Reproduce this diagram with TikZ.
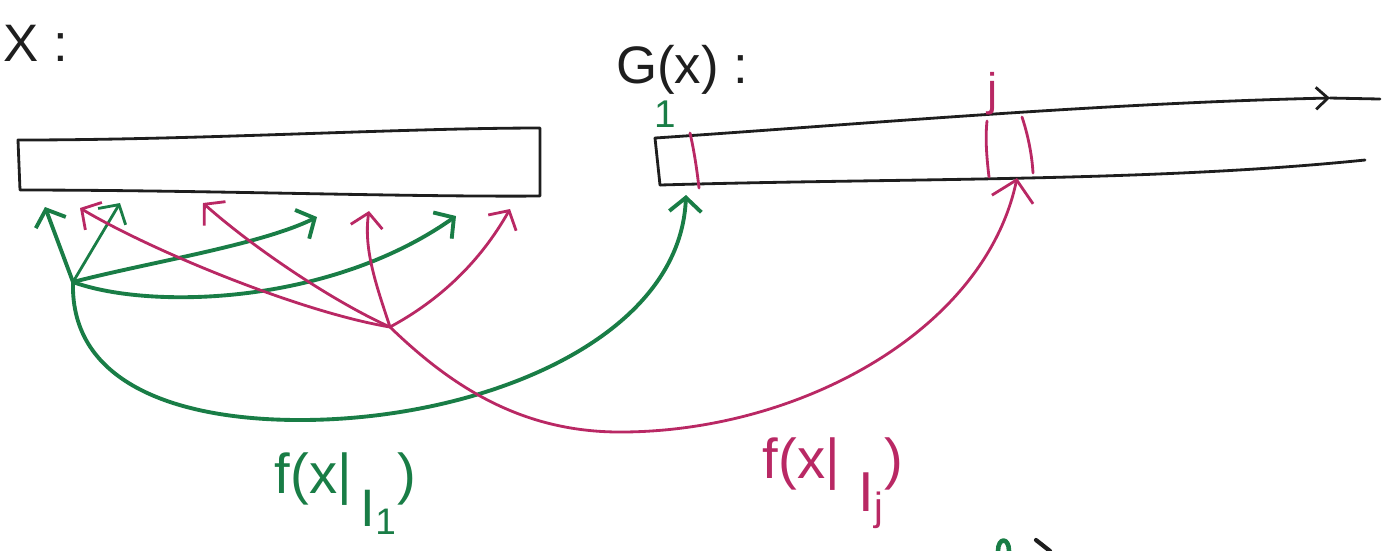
\documentclass[tikz,border=0pt]{standalone}
\usepackage{fontspec}
\setmainfont{Liberation Sans}
\usetikzlibrary{arrows.meta}
\definecolor{pen}{RGB}{30,30,30}
\definecolor{grn}{RGB}{25,125,70}
\definecolor{mag}{RGB}{185,40,100}
\begin{document}
\begin{tikzpicture}[x=0.01cm,y=-0.01cm, line cap=round, line join=round,
 ink/.style={draw=pen, line width=0.8pt},
 gline/.style={draw=grn, line width=1.1pt},
 mline/.style={draw=mag, line width=0.8pt},
 garrow/.style={gline, -{Straight Barb[length=1.4mm,width=3.2mm]}},
 marrow/.style={mline, -{Straight Barb[length=1.4mm,width=3.2mm]}},
 bigm/.style={mline, -{Straight Barb[length=2mm,width=4.2mm]}},
 lbl/.style={font=\fontsize{16}{19}\selectfont, inner sep=0pt},
 head/.style={font=\fontsize{15}{18}\selectfont, inner sep=0pt, text=pen}]

\path[use as bounding box] (0,0) rectangle (1397,550);

% titles
\node[head] (tx) at (36,43) {X :};
\node[head] (tg) at (682,70) {G(x) :};

% left array X
\coordinate (xtl) at (18,140);
\coordinate (xtr) at (540,128);
\coordinate (xbr) at (540,196);
\coordinate (xbl) at (20,190);
\draw[ink] (xtl) .. controls (200,140) and (400,128) .. (xtr) -- (xbr)
  .. controls (400,197) and (200,190) .. (xbl) -- cycle;

% right array G(x)
\coordinate (gtl) at (655,138);
\coordinate (gbl) at (660,185);
\coordinate (gta) at (1330,98);
\coordinate (gte) at (1380,99);
\coordinate (gbe) at (1365,160);
\draw[ink] (gtl) -- (gbl);
\draw[ink, -{Straight Barb[length=1.2mm,width=2.2mm]}] (gtl) .. controls (850,125) and (1100,103) .. (gta);
\draw[ink] (gta) -- (gte);
\draw[ink] (gbl) .. controls (900,178) and (1150,182) .. (gbe);

% cell boundaries
\coordinate (c1t) at (690,133); \coordinate (c1b) at (699,188);
\coordinate (cj1t) at (987,121); \coordinate (cj1b) at (989,177);
\coordinate (cj2t) at (1022,117); \coordinate (cj2b) at (1033,173);
\draw[mline] (c1t) .. controls (694,150) and (697,170) .. (c1b);
\draw[mline] (cj1t) .. controls (985,140) and (987,160) .. (cj1b);
\draw[mline] (cj2t) .. controls (1028,135) and (1032,155) .. (cj2b);
\node[font=\fontsize{11}{13}\selectfont, text=grn, inner sep=0pt] (one) at (665,114) {1};
\node[font=\fontsize{13}{15}\selectfont, text=mag, inner sep=0pt] (jj) at (993,94) {j};

% sources
\coordinate (s1) at (73,282);
\coordinate (s2) at (390,327);

% green targets
\coordinate (g1) at (45,207);
\coordinate (g2) at (120,203);
\coordinate (g3) at (317,217);
\coordinate (g4) at (456,216);
\coordinate (gg) at (686,195);
\draw[garrow] (s1) -- (g1);
\draw[garrow, line width=0.8pt] (s1) -- (g2);
\draw[garrow] (s1) .. controls (150,262) and (260,245) .. (g3);
\draw[garrow] (s1) .. controls (150,310) and (330,305) .. (g4);
\draw[garrow] (s1) .. controls (70,385) and (180,420) .. (300,420)
  .. controls (480,420) and (680,340) .. (gg);

% magenta targets
\coordinate (m1) at (80,208);
\coordinate (m2) at (203,203);
\coordinate (m3) at (369,211);
\coordinate (m4) at (510,209);
\coordinate (mg) at (1017,178);
\draw[marrow] (s2) .. controls (300,312) and (150,250) .. (m1);
\draw[marrow] (s2) .. controls (330,300) and (250,245) .. (m2);
\draw[marrow] (s2) .. controls (378,290) and (363,250) .. (m3);
\draw[marrow] (s2) .. controls (440,300) and (480,262) .. (m4);
\draw[bigm] (s2) .. controls (450,385) and (520,432) .. (620,432)
  .. controls (800,432) and (985,330) .. (mg);

% labels
\node[lbl, text=grn, anchor=base west] (lf1) at (274,493)
  {f(x|\raisebox{-0.6em}{\fontsize{15}{17}\selectfont\,I\textsubscript{1}})};
\node[lbl, text=mag, anchor=base west] (lfj) at (762,478)
  {f(x|\raisebox{-0.6em}{\fontsize{16}{18}\selectfont\,\,I\textsubscript{j}})};

% cut-off marks at bottom edge
\draw[gline, line width=1.3pt] (998,551) .. controls (998,537) and (1009,537) .. (1009,551);
\draw[ink, line width=1.2pt] (1036,540) -- (1050,551);
\end{tikzpicture}
\end{document}
